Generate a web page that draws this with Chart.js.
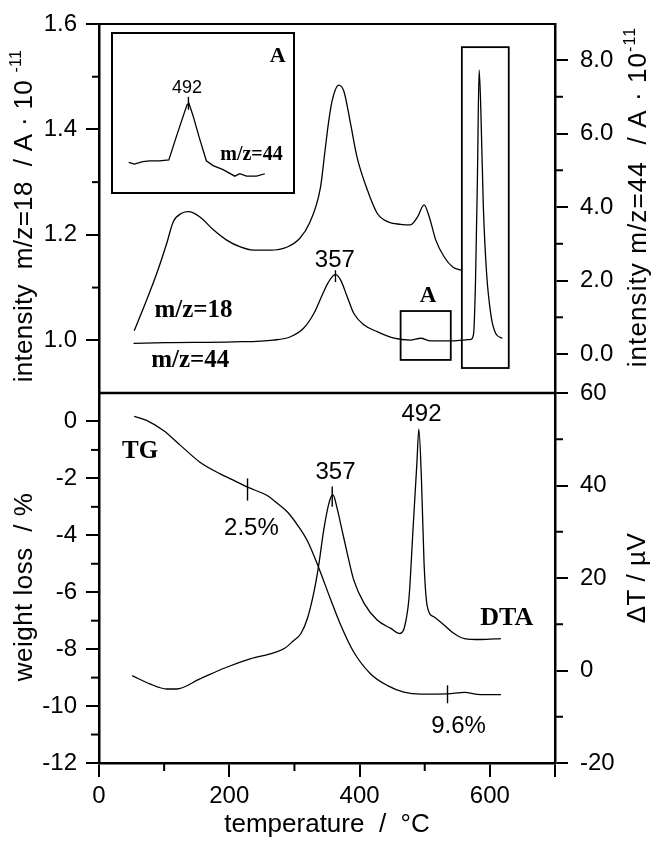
<!DOCTYPE html>
<html>
<head>
<meta charset="utf-8">
<title>TG / DTA / MS</title>
<script src="https://cdn.jsdelivr.net/npm/chart.js@4.4.1/dist/chart.umd.min.js"></script>
<style>
  html, body { margin: 0; padding: 0; background: #fff; }
  #page { position: relative; width: 656px; height: 843px; overflow: hidden; background: #fff; }
</style>
</head>
<body>
<div id="page">
  <canvas id="topChart" width="656" height="423" style="position:absolute;left:0;top:0"></canvas>
  <canvas id="bottomChart" width="656" height="480" style="position:absolute;left:0;top:363px"></canvas>
  <canvas id="insetChart" width="184" height="162" style="position:absolute;left:111px;top:32px"></canvas>
</div>
<script>
const SANS = '"Liberation Sans", Arial, Helvetica, sans-serif';
const SERIF = '"Liberation Serif", "Times New Roman", serif';

// --- top panel: mass spec ion currents (A * 1e-11) vs temperature (°C)
const ms18Temp = [54,73,89,104,114,127,137,155,176,196,217,237,263,289,308,323,340,347,352,358,368,376,386,396,412,427,443,463,478,489,499,507,517,530,543,556];
const ms18Int  = [1.018,1.076,1.128,1.184,1.225,1.241,1.244,1.234,1.209,1.190,1.177,1.171,1.171,1.177,1.193,1.222,1.29,1.36,1.41,1.455,1.484,1.472,1.412,1.348,1.285,1.241,1.225,1.220,1.219,1.234,1.257,1.234,1.190,1.158,1.139,1.133];

const ms44Temp = [53,104,207,268,294,314,330,343,352,363,371,381,391,407,427,453,478,494,509,545,571,575,578,581,583.5,586,590,595,602,609,619];
const ms44Int  = [0.29,0.31,0.33,0.38,0.47,0.70,1.11,1.62,1.95,2.17,2.01,1.56,1.11,0.79,0.61,0.43,0.38,0.43,0.36,0.36,0.40,0.55,2.0,4.9,7.73,6.73,4.01,2.2,1.02,0.56,0.43];

// inset "A": m/z=44 zoomed around 492 °C
const insetTemp = [470.4,472.8,476.3,479.1,483.3,487.2,489.6,492.4,494.8,495.6,497.3,500.1,502.9,505.7,509.9,514.8,516.9,519.7,523.9,527.4];
const insetInt  = [0.339,0.337,0.340,0.341,0.341,0.342,0.364,0.389,0.410,0.412,0.397,0.368,0.341,0.335,0.330,0.322,0.325,0.322,0.322,0.325];

// --- bottom panel: TG (weight loss %) and DTA (µV)
const tgTemp = [54,73,99,125,155,186,207,228,258,275,290,305,320,337,355,371,391,417,443,468,494,535,561,586,617];
const tgLoss = [0.18,0.04,-0.32,-0.84,-1.43,-1.84,-2.07,-2.31,-2.60,-2.90,-3.20,-3.65,-4.20,-5.12,-6.22,-7.15,-8.10,-8.87,-9.28,-9.51,-9.58,-9.57,-9.52,-9.60,-9.60];

const dtaTemp = [51,78,104,119,155,196,232,268,285,299,310,320,330,337,345,353,359,366,373,381,391,407,427,448,462,469,476,482,488,491,495,499,504,514,530,545,561,586,617];
const dtaDT   = [-1.1,-2.9,-4.0,-4.0,-1.8,0.7,2.5,3.8,4.8,6.5,8.0,11.3,17.0,22.5,30.4,36.2,38.0,34.8,30.4,25.4,19.6,14.5,10.9,9.1,8.0,9.4,15.9,30.4,44.9,52.2,41.3,23.2,13.8,11.6,9.8,8.0,6.9,6.7,6.9];

// --- ticks
const tempTicks = [0,200,400,600,700];
const tempMinor = [100,300,500];
const topLeftTicks = [1.0,1.2,1.4,1.6];
const topLeftMinor = [1.1,1.3,1.5];
const topRightTicks = [0,2,4,6,8];
const topRightMinor = [1,3,5,7];
const botLeftTicks = [-12,-10,-8,-6,-4,-2,0];
const botLeftMinor = [-11,-9,-7,-5,-3,-1];
const botRightTicks = [-20,0,20,40,60];
const botRightMinor = [-10,10,30,50];

// peak / step markers: [temperature, from, to]
const topMarks = [[363, 1.96, 2.28]];
const dtaMarks = [[358, 35.4, 39.8]];
const tgMarks = [[228, -2.0, -2.78], [535, -9.27, -9.9]];
const insetMarks = [[495.4, 0.404, 0.42]];

// zoom boxes on m/z=44 axis: [t0, t1, v0, v1]
const zoomBoxes = [[463, 540, -0.16, 1.17], [557, 629, -0.38, 8.35]];

function curve(xs, ys, axis, extra) {
  return Object.assign({
    data: xs.map((x, i) => ({ x: x, y: ys[i] })),
    yAxisID: axis,
    borderColor: '#000',
    borderWidth: 1.3,
    pointRadius: 0,
    fill: false,
    cubicInterpolationMode: 'monotone'
  }, extra || {});
}

function yAxis(pos, min, max, ticks, fmt, width) {
  return {
    type: 'linear', position: pos, min: min, max: max,
    afterBuildTicks: s => { s.ticks = ticks.map(v => ({ value: v })); },
    afterFit: s => { s.width = width; s.paddingTop = 0; s.paddingBottom = 0; },
    ticks: { color: '#000', autoSkip: false, font: { family: SANS, size: 24 }, padding: pos === 'left' ? 9 : 12, callback: v => fmt(v) },
    grid: { drawOnChartArea: false, tickLength: 13, lineWidth: 2, color: '#000' },
    border: { width: 2.5, color: '#000' }
  };
}

function line(ctx, x1, y1, x2, y2, w) {
  ctx.lineWidth = w;
  ctx.beginPath();
  ctx.moveTo(x1, y1);
  ctx.lineTo(x2, y2);
  ctx.stroke();
}

function text(ctx, s, x, y, font) {
  ctx.font = font;
  ctx.textAlign = 'center';
  ctx.textBaseline = 'alphabetic';
  ctx.fillText(s, x, y);
}

// rotated axis title, reads bottom to top, optional superscript
function vTitle(ctx, x, y, main, sup, size, spacing) {
  ctx.save();
  ctx.translate(x, y);
  ctx.rotate(-Math.PI / 2);
  ctx.textAlign = 'left';
  ctx.textBaseline = 'alphabetic';
  if (spacing) ctx.letterSpacing = spacing + 'px';
  ctx.font = size + 'px ' + SANS;
  const w1 = ctx.measureText(main).width;
  const supSize = Math.round(size * 0.62);
  ctx.font = supSize + 'px ' + SANS;
  const w2 = sup ? ctx.measureText(sup).width : 0;
  const start = -(w1 + w2) / 2;
  ctx.font = size + 'px ' + SANS;
  ctx.fillText(main, start, 0);
  if (sup) {
    ctx.font = supSize + 'px ' + SANS;
    ctx.fillText(sup, start + w1, -size * 0.42);
  }
  ctx.restore();
}

function minorTicks(ctx, a, scale, vals, side, len) {
  vals.forEach(v => {
    const p = scale.getPixelForValue(v);
    if (side === 'left') line(ctx, a.left - len, p, a.left, p, 2);
    else if (side === 'right') line(ctx, a.right, p, a.right + len, p, 2);
    else line(ctx, p, a.bottom, p, a.bottom + len, 2);
  });
}

function marks(ctx, xs, ys, list) {
  list.forEach(m => {
    const px = xs.getPixelForValue(m[0]);
    line(ctx, px, ys.getPixelForValue(m[1]), px, ys.getPixelForValue(m[2]), 1.4);
  });
}

const topDecor = {
  id: 'topDecor',
  afterDraw(chart) {
    const { ctx, chartArea: a, scales } = chart;
    const x = scales.x, yL = scales.yL, yR = scales.yR;
    ctx.save();
    ctx.strokeStyle = '#000';
    ctx.fillStyle = '#000';
    line(ctx, a.left, a.top, a.right, a.top, 2);
    line(ctx, a.left - 1, a.bottom, a.right + 1, a.bottom, 2.5);
    minorTicks(ctx, a, yL, topLeftMinor, 'left', 7);
    minorTicks(ctx, a, yR, topRightMinor, 'right', 8);
    ctx.lineWidth = 1.8;
    zoomBoxes.forEach(b => {
      const x0 = x.getPixelForValue(b[0]), x1 = x.getPixelForValue(b[1]);
      const y0 = yR.getPixelForValue(b[3]), y1 = yR.getPixelForValue(b[2]);
      ctx.strokeRect(x0, y0, x1 - x0, y1 - y0);
    });
    marks(ctx, x, yR, topMarks);
    text(ctx, '357', x.getPixelForValue(362), yR.getPixelForValue(2.37), '24px ' + SANS);
    text(ctx, 'A', x.getPixelForValue(505), yR.getPixelForValue(1.41), 'bold 23px ' + SERIF);
    text(ctx, 'm/z=18', x.getPixelForValue(145), yL.getPixelForValue(1.044), 'bold 25px ' + SERIF);
    text(ctx, 'm/z=44', x.getPixelForValue(140), yR.getPixelForValue(-0.35), 'bold 25px ' + SERIF);
    vTitle(ctx, 32, 216, 'intensity  m/z=18  / A \u00b7 10 ', '-11', 26, 0.3);
    vTitle(ctx, 646, 197, 'intensity m/z=44  / A \u00b7 10', '-11', 26, 1.1);
    ctx.restore();
  }
};

const bottomDecor = {
  id: 'bottomDecor',
  afterDraw(chart) {
    const { ctx, chartArea: a, scales } = chart;
    const x = scales.x, yL = scales.yL, yR = scales.yR;
    ctx.save();
    ctx.strokeStyle = '#000';
    ctx.fillStyle = '#000';
    minorTicks(ctx, a, yL, botLeftMinor, 'left', 8);
    minorTicks(ctx, a, yR, botRightMinor, 'right', 8);
    minorTicks(ctx, a, x, tempMinor, 'bottom', 8);
    marks(ctx, x, yR, dtaMarks);
    marks(ctx, x, yL, tgMarks);
    text(ctx, 'TG', x.getPixelForValue(63), yL.getPixelForValue(-1.30), 'bold 25px ' + SERIF);
    text(ctx, '2.5%', x.getPixelForValue(234), yL.getPixelForValue(-4.0), '24px ' + SANS);
    text(ctx, '357', x.getPixelForValue(363), yR.getPixelForValue(41.3), '24px ' + SANS);
    text(ctx, '492', x.getPixelForValue(495), yR.getPixelForValue(53.9), '24px ' + SANS);
    text(ctx, 'DTA', x.getPixelForValue(626), yR.getPixelForValue(9.8), 'bold 26px ' + SERIF);
    text(ctx, '9.6%', x.getPixelForValue(552), yL.getPixelForValue(-10.93), '24px ' + SANS);
    vTitle(ctx, 32, 224, 'weight loss  / %', '', 26, 0.5);
    vTitle(ctx, 645, 215, '\u0394T / \u00b5V', '', 26, 0.5);
    text(ctx, 'temperature  /  \u00b0C', (a.left + a.right) / 2, 469, '26px ' + SANS);
    ctx.restore();
  }
};

const insetDecor = {
  id: 'insetDecor',
  afterDraw(chart) {
    const { ctx, width, height, scales } = chart;
    const x = scales.x, y = scales.y;
    ctx.save();
    ctx.strokeStyle = '#000';
    ctx.fillStyle = '#000';
    ctx.lineWidth = 2;
    ctx.strokeRect(1, 1, width - 2, height - 2);
    marks(ctx, x, y, insetMarks);
    text(ctx, 'A', x.getPixelForValue(532.8), y.getPixelForValue(0.463), 'bold 22px ' + SERIF);
    text(ctx, '492', x.getPixelForValue(494.8), y.getPixelForValue(0.4246), '18px ' + SANS);
    text(ctx, 'm/z=44', x.getPixelForValue(521.8), y.getPixelForValue(0.3414), 'bold 20px ' + SERIF);
    ctx.restore();
  }
};

const common = {
  responsive: false,
  animation: false,
  devicePixelRatio: 1,
  plugins: { legend: { display: false }, tooltip: { enabled: false } }
};

new Chart(document.getElementById('topChart'), {
  type: 'line',
  data: { datasets: [curve(ms18Temp, ms18Int, 'yL'), curve(ms44Temp, ms44Int, 'yR')] },
  options: Object.assign({}, common, {
    layout: { padding: { left: 0, right: 0, top: 24, bottom: 30 }, autoPadding: false },
    scales: {
      x: { type: 'linear', min: 0, max: 700, display: false },
      yL: yAxis('left', 0.9, 1.6, topLeftTicks, v => v.toFixed(1), 99),
      yR: yAxis('right', -1.06, 8.98, topRightTicks, v => v.toFixed(1), 101)
    }
  }),
  plugins: [topDecor]
});

new Chart(document.getElementById('bottomChart'), {
  type: 'line',
  data: { datasets: [curve(tgTemp, tgLoss, 'yL'), curve(dtaTemp, dtaDT, 'yR')] },
  options: Object.assign({}, common, {
    layout: { padding: { left: 0, right: 0, top: 30, bottom: 0 }, autoPadding: false },
    scales: {
      x: {
        type: 'linear', position: 'bottom', min: 0, max: 700,
        afterBuildTicks: s => { s.ticks = tempTicks.map(v => ({ value: v })); },
        afterFit: s => { s.height = 80; },
        ticks: { color: '#000', autoSkip: false, maxRotation: 0, font: { family: SANS, size: 24 }, padding: 5,
                 callback: v => (v === 700 ? '' : String(v)) },
        grid: { drawOnChartArea: false, tickLength: 14, lineWidth: 2, color: '#000' },
        border: { width: 2.5, color: '#000' }
      },
      yL: yAxis('left', -12, 1, botLeftTicks, v => String(v), 99),
      yR: yAxis('right', -20, 60, botRightTicks, v => String(v), 101)
    }
  }),
  plugins: [bottomDecor]
});

new Chart(document.getElementById('insetChart'), {
  type: 'line',
  data: { datasets: [curve(insetTemp, insetInt, 'y', { cubicInterpolationMode: 'default', tension: 0, borderWidth: 1.3 })] },
  options: Object.assign({}, common, {
    layout: { padding: 0, autoPadding: false },
    scales: {
      x: { type: 'linear', min: 463, max: 540, display: false },
      y: { type: 'linear', min: 0.30, max: 0.50, display: false }
    }
  }),
  plugins: [insetDecor]
});
</script>
</body>
</html>
